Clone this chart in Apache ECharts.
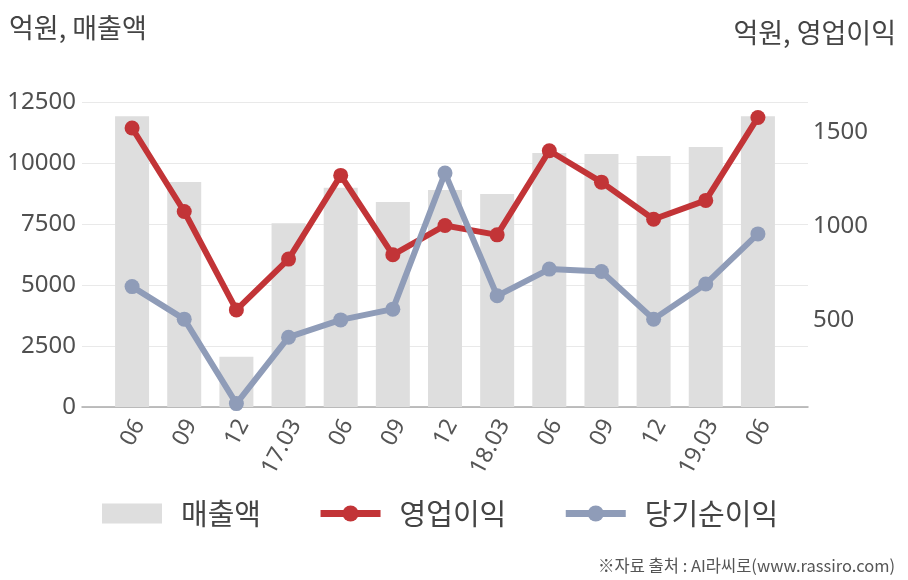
<!DOCTYPE html>
<html><head><meta charset="utf-8">
<script src="https://cdn.jsdelivr.net/npm/echarts@6/dist/echarts.min.js"></script>
<style>html,body{margin:0;padding:0;background:#fff}#c{width:908px;height:580px}</style>
</head><body><div id="c"></div>
<script>
const categories = ['06','09','12','17.03','06','09','12','18.03','06','09','12','19.03','06'];
const sales = [11920, 9220, 2060, 7530, 8990, 8400, 8890, 8730, 10410, 10370, 10290, 10660, 11920];
const opProfit = [1520, 1076, 553, 823, 1268, 846, 1002, 952, 1399, 1232, 1035, 1135, 1576];
const netProfit = [677, 504, 55, 408, 500, 557, 1280, 628, 770, 757, 504, 691, 957];
const leftTicks = {min: 0, max: 12500, interval: 2500};
const rightRange = {min: 37, max: 1658};
const rightTickLabels = [500, 1000, 1500];

const FONT = '"Noto Sans CJK KR","Noto Sans",sans-serif';
const NUMFONT = '"Noto Sans","Noto Sans CJK KR",sans-serif';
const plain = v => String(v);
const chart = echarts.init(document.getElementById('c'), null, {renderer: 'canvas'});
chart.setOption({
  animation: false,
  textStyle: {fontFamily: FONT},
  title: [
    {text: '억원, 매출액', left: 9, top: 14, padding: 0, textStyle: {fontSize: 27, fontWeight: 'normal', color: '#444', fontFamily: FONT}},
    {text: '억원, 영업이익', right: 12, top: 19, padding: 0, textStyle: {fontSize: 27, fontWeight: 'normal', color: '#444', fontFamily: FONT}},
    {text: '※자료 출처 : AI라씨로(www.rassiro.com)', right: 13, top: 557, padding: 0, textStyle: {fontSize: 16.5, fontWeight: 'normal', color: '#555', fontFamily: FONT}}
  ],
  legend: {
    top: 499, left: 102, padding: 0,
    itemWidth: 60, itemHeight: 20, itemGap: 56,
    lineStyle: {width: 7},
    textStyle: {fontSize: 29, color: '#444', fontFamily: FONT, padding: [0, 0, 0, 14]},
    data: [
      {name: '매출액', icon: 'rect'},
      {name: '영업이익'},
      {name: '당기순이익'}
    ]
  },
  grid: [
    {left: 82, right: 100, top: 102, bottom: 173},
    {left: 106, right: 124, top: 102, bottom: 173},
    {left: 113, right: 117, top: 102, bottom: 173}
  ],
  xAxis: [
    {type: 'value', gridIndex: 0, min: 0, max: 1, axisLine: {show: true, onZero: false, lineStyle: {color: '#aaa', width: 1.5}},
     axisTick: {show: false}, axisLabel: {show: false}, splitLine: {show: false}},
    {type: 'category', gridIndex: 1, data: categories, axisLine: {show: false}, axisTick: {show: false},
     axisLabel: {show: false}},
    {type: 'category', gridIndex: 2, data: categories, axisLine: {show: false}, axisTick: {show: false},
     axisLabel: {rotate: 62, fontSize: 23, color: '#555', margin: 14, fontFamily: NUMFONT, interval: 0}}
  ],
  yAxis: [
    {type: 'value', gridIndex: 0, position: 'left', min: leftTicks.min, max: leftTicks.max, interval: leftTicks.interval,
     axisLine: {show: false}, axisTick: {show: false},
     axisLabel: {fontSize: 24, color: '#505050', margin: 6, fontFamily: NUMFONT, formatter: plain},
     splitLine: {lineStyle: {color: '#e9e9e9', width: 1}}},
    {type: 'value', gridIndex: 0, position: 'right', min: rightRange.min, max: rightRange.max,
     axisLine: {show: false}, axisTick: {show: false},
     axisLabel: {fontSize: 24, color: '#505050', margin: 5, fontFamily: NUMFONT, customValues: rightTickLabels, formatter: plain},
     splitLine: {show: false}},
    {type: 'value', gridIndex: 1, min: leftTicks.min, max: leftTicks.max, show: false, splitLine: {show: false}},
    {type: 'value', gridIndex: 1, min: rightRange.min, max: rightRange.max, show: false, splitLine: {show: false}},
    {type: 'value', gridIndex: 2, min: 0, max: 1, show: false, splitLine: {show: false}}
  ],
  series: [
    {name: '매출액', type: 'bar', xAxisIndex: 1, yAxisIndex: 2, data: sales, barWidth: 34,
     itemStyle: {color: '#dedede'}},
    {name: '영업이익', type: 'line', xAxisIndex: 1, yAxisIndex: 3, data: opProfit,
     symbol: 'circle', symbolSize: 15, lineStyle: {width: 6, color: '#c23437'}, itemStyle: {color: '#c23437'}},
    {name: '당기순이익', type: 'line', xAxisIndex: 1, yAxisIndex: 3, data: netProfit,
     symbol: 'circle', symbolSize: 15, lineStyle: {width: 6, color: '#8f9cb8'}, itemStyle: {color: '#8f9cb8'}}
  ]
});
</script></body></html>
